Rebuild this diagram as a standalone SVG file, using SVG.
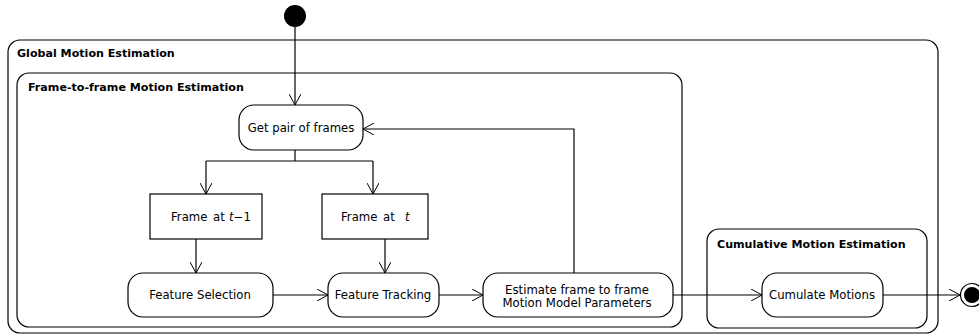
<svg xmlns="http://www.w3.org/2000/svg" width="979" height="335" viewBox="0 0 979 335">
<defs>
<marker id="arr" viewBox="0 0 12 12" refX="11" refY="6" markerWidth="12" markerHeight="12" markerUnits="userSpaceOnUse" orient="auto">
<path d="M0,0 L11,6 L0,12" fill="none" stroke="#000" stroke-width="1"/>
</marker>
<style>
.c{fill:none;stroke:#000;stroke-width:1.2}
.n{fill:#fff;stroke:#000;stroke-width:1.2}
.t{font-family:"DejaVu Sans",sans-serif;font-size:11.7px;fill:#000}
.b{font-family:"DejaVu Sans",sans-serif;font-size:11.1px;font-weight:bold;fill:#000}
.l{fill:none;stroke:#000;stroke-width:1.2;marker-end:url(#arr)}
</style>
</defs>
<rect width="979" height="335" fill="#fff"/>
<g id="global">
<rect class="c" x="8" y="40" width="930" height="293" rx="12"/>
<text class="b" x="17" y="57">Global Motion Estimation</text>
</g>
<g id="f2f">
<rect class="c" x="17" y="73" width="665" height="254" rx="12"/>
<text class="b" x="28" y="91">Frame-to-frame Motion Estimation</text>
</g>
<g id="cum">
<rect class="c" x="707" y="229" width="220" height="99" rx="12"/>
<text class="b" x="717" y="248">Cumulative Motion Estimation</text>
</g>
<g id="start"><circle cx="295" cy="16" r="11" fill="#000"/></g>
<g id="getpair">
<rect class="n" x="239" y="105" width="124" height="45" rx="15"/>
<text class="t" x="301" y="132" text-anchor="middle">Get pair of frames</text>
</g>
<g id="frame1">
<rect class="n" x="150" y="194" width="112" height="45"/>
<text class="t" x="171" y="221">Frame</text>
<text class="t" x="213" y="221">at</text>
<text class="t" x="229" y="221"><tspan font-style="italic">t</tspan>−1</text>
</g>
<g id="frame2">
<rect class="n" x="322" y="194" width="106" height="45"/>
<text class="t" x="341" y="221">Frame</text>
<text class="t" x="383" y="221">at</text>
<text class="t" x="405" y="221" font-style="italic">t</text>
</g>
<g id="fsel">
<rect class="n" x="128" y="273" width="145" height="44" rx="15"/>
<text class="t" x="200" y="299" text-anchor="middle">Feature Selection</text>
</g>
<g id="ftrack">
<rect class="n" x="328" y="273" width="111" height="44" rx="15"/>
<text class="t" x="383" y="299" text-anchor="middle">Feature Tracking</text>
</g>
<g id="estimate">
<rect class="n" x="483" y="273" width="190" height="44" rx="15"/>
<text class="t" x="577" y="294" text-anchor="middle">Estimate frame to frame</text>
<text class="t" x="577" y="307" text-anchor="middle">Motion Model Parameters</text>
</g>
<g id="cumulate">
<rect class="n" x="762" y="273" width="121" height="44" rx="15"/>
<text class="t" x="822" y="299" text-anchor="middle">Cumulate Motions</text>
</g>
<g id="end">
<circle cx="972" cy="295" r="11.5" fill="#fff" stroke="#000" stroke-width="1.2"/>
<circle cx="972" cy="295" r="8" fill="#000"/>
</g>
<g id="connectors">
<path class="l" d="M295,27 V105"/>
<path class="c" d="M295,150 V161 M206,161 H373"/>
<path class="l" d="M206,161 V194"/>
<path class="l" d="M373,161 V194"/>
<path class="l" d="M196,239 V273"/>
<path class="l" d="M385,239 V273"/>
<path class="l" d="M273,295 H328"/>
<path class="l" d="M439,295 H483"/>
<path class="l" d="M574,273 V129 H363"/>
<path class="l" d="M673,295 H762"/>
<path class="l" d="M883,295 H960"/>
</g>
</svg>
